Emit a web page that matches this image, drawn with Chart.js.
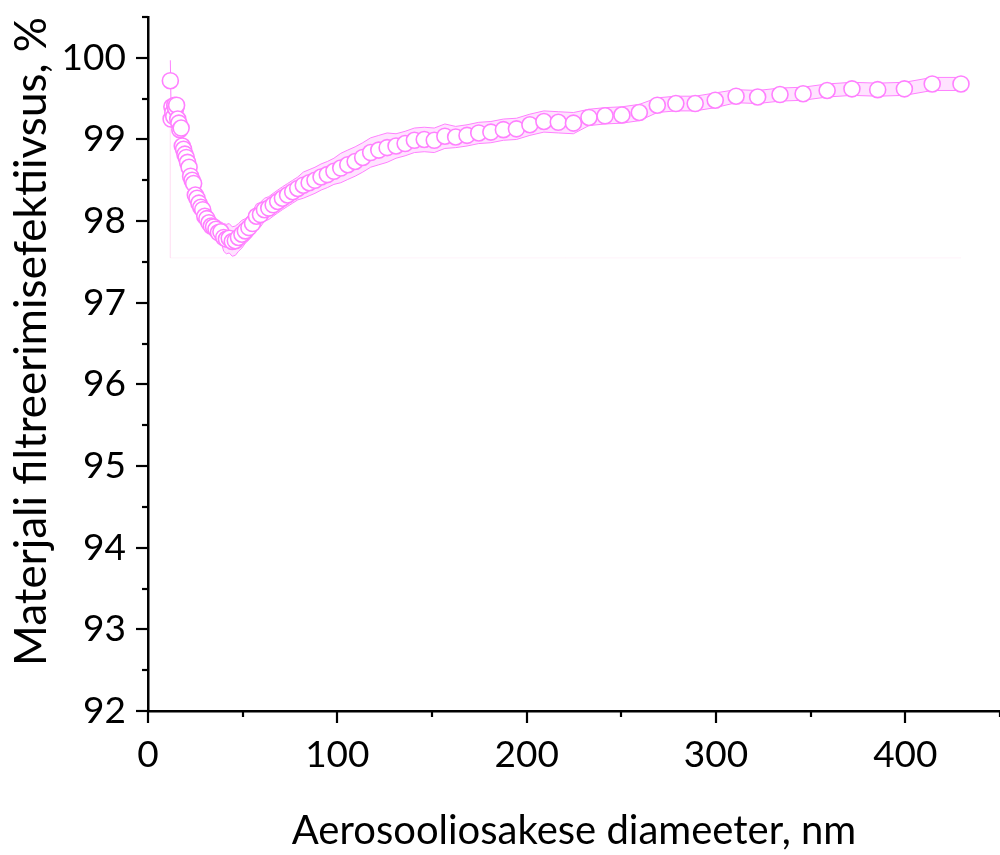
<!DOCTYPE html>
<html>
<head>
<meta charset="utf-8">
<script src="https://cdn.jsdelivr.net/npm/chart.js@4/dist/chart.umd.min.js"></script>
<style>
  html, body { margin: 0; padding: 0; background: #ffffff; }
  #wrap { width: 1000px; height: 855px; }
</style>
</head>
<body>
<div id="wrap"><canvas id="c" width="1000" height="855"></canvas></div>
<script>
// Particle diameter, nm
const diameters = [11.8, 12.2, 12.6, 13.1, 13.6, 14.1, 14.6, 15.1, 15.7, 16.3,
  16.8, 17.5, 18.1, 18.8, 19.5, 20.2, 20.9, 21.7, 22.5, 23.3,
  24.1, 25.0, 25.9, 26.9, 27.9, 28.9, 30.0, 31.1, 32.2, 33.4,
  34.6, 35.9, 37.2, 38.5, 40.0, 41.4, 42.9, 44.5, 46.1, 47.8,
  49.6, 51.4, 53.3, 55.2, 57.3, 59.4, 61.5, 63.8, 66.1, 68.5,
  71.0, 73.7, 76.4, 79.1, 82.0, 85.1, 88.2, 91.4, 94.7, 98.2,
  101.8, 105.5, 109.4, 113.4, 117.6, 121.9, 126.3, 131.0, 135.8, 140.7,
  145.9, 151.2, 156.8, 162.5, 168.5, 174.7, 181.1, 187.7, 194.6, 201.7,
  209.1, 216.7, 224.7, 232.9, 241.4, 250.3, 259.5, 269.0, 278.8, 289.0,
  299.6, 310.6, 322.0, 333.8, 346.0, 358.7, 371.8, 385.4, 399.5, 414.2,
  429.4];

// Filtration efficiency, %
const efficiency = [99.72, 99.25, 99.40, 99.33, 99.28, 99.42, 99.38, 99.42, 99.25, 99.20,
  99.12, 99.14, 98.92, 98.88, 98.82, 98.78, 98.72, 98.66, 98.55, 98.50,
  98.46, 98.32, 98.28, 98.22, 98.17, 98.14, 98.06, 98.03, 97.98, 97.94,
  97.93, 97.90, 97.86, 97.87, 97.80, 97.78, 97.79, 97.75, 97.76, 97.80,
  97.84, 97.88, 97.92, 97.97, 98.06, 98.08, 98.14, 98.16, 98.20, 98.24,
  98.28, 98.32, 98.36, 98.40, 98.44, 98.47, 98.50, 98.54, 98.57, 98.61,
  98.65, 98.69, 98.73, 98.78, 98.84, 98.87, 98.90, 98.92, 98.95, 98.99,
  99.00, 98.99, 99.04, 99.03, 99.05, 99.08, 99.09, 99.12, 99.13, 99.18,
  99.22, 99.21, 99.20, 99.27, 99.29, 99.30, 99.33, 99.42, 99.44, 99.44,
  99.48, 99.53, 99.52, 99.55, 99.56, 99.60, 99.62, 99.61, 99.62, 99.68,
  99.68];

// Error band half-width, %
const errors = [0.25, 0.10, 0.10, 0.10, 0.10, 0.10, 0.10, 0.10, 0.10, 0.10,
  0.10, 0.10, 0.08, 0.08, 0.08, 0.08, 0.08, 0.08, 0.08, 0.08,
  0.08, 0.08, 0.08, 0.08, 0.08, 0.08, 0.12, 0.12, 0.12, 0.12,
  0.12, 0.12, 0.12, 0.12, 0.17, 0.18, 0.18, 0.18, 0.18, 0.17,
  0.17, 0.15, 0.15, 0.15, 0.15, 0.15, 0.14, 0.14, 0.14, 0.14,
  0.14, 0.14, 0.14, 0.14, 0.16, 0.16, 0.16, 0.16, 0.16, 0.16,
  0.18, 0.18, 0.18, 0.18, 0.18, 0.18, 0.18, 0.15, 0.15, 0.15,
  0.15, 0.15, 0.15, 0.13, 0.13, 0.13, 0.13, 0.13, 0.13, 0.13,
  0.13, 0.13, 0.13, 0.10, 0.10, 0.10, 0.10, 0.09, 0.09, 0.09,
  0.09, 0.08, 0.08, 0.08, 0.08, 0.08, 0.08, 0.08, 0.08, 0.08,
  0.08];

// Faint baseline of the filled area
const baselineX = [11.8, 11.8, 429.4];
const baselineY = [99.2, 97.55, 97.55];

const xTickLabels = [0, 100, 200, 300, 400];
const yTickLabels = [92, 93, 94, 95, 96, 97, 98, 99, 100];

const PINK = '#ff80ff';
const FONT = 'Lato, "Open Sans", sans-serif';

const mainPts = diameters.map((d, i) => ({x: d, y: efficiency[i]}));
const upperPts = diameters.map((d, i) => ({x: d, y: efficiency[i] + errors[i]}));
const lowerPts = diameters.map((d, i) => ({x: d, y: efficiency[i] - errors[i]}));
const basePts = baselineX.map((x, i) => ({x: x, y: baselineY[i]}));

const tickPlugin = {
  id: 'axisTicks',
  afterDraw(chart) {
    const ctx = chart.ctx;
    const xs = chart.scales.x, ys = chart.scales.y;
    const area = chart.chartArea;
    ctx.save();
    ctx.strokeStyle = '#000';
    ctx.lineWidth = 2.2;
    xs.ticks.forEach(t => {
      const px = Math.round(xs.getPixelForValue(t.value));
      const len = xTickLabels.includes(t.value) ? 12 : 6;
      ctx.beginPath();
      ctx.moveTo(px, area.bottom);
      ctx.lineTo(px, area.bottom + len);
      ctx.stroke();
    });
    ys.ticks.forEach(t => {
      const py = Math.round(ys.getPixelForValue(t.value));
      const len = yTickLabels.includes(t.value) ? 12 : 6;
      ctx.beginPath();
      ctx.moveTo(area.left, py);
      ctx.lineTo(area.left - len, py);
      ctx.stroke();
    });
    ctx.restore();
  }
};

new Chart(document.getElementById('c'), {
  type: 'scatter',
  data: {
    datasets: [
      {
        label: 'efektiivsus',
        data: mainPts,
        showLine: false,
        pointRadius: 8,
        pointHoverRadius: 8,
        pointBackgroundColor: '#ffffff',
        pointBorderColor: PINK,
        pointBorderWidth: 1.6,
        order: 0
      },
      {
        label: 'upper',
        data: upperPts,
        showLine: true,
        pointRadius: 0,
        borderColor: PINK,
        borderWidth: 1,
        backgroundColor: 'rgba(255,128,255,0.22)',
        fill: '+1',
        tension: 0,
        order: 1
      },
      {
        label: 'lower',
        data: lowerPts,
        showLine: true,
        pointRadius: 0,
        borderColor: PINK,
        borderWidth: 1,
        fill: false,
        tension: 0,
        order: 2
      },
      {
        label: 'baseline',
        data: basePts,
        showLine: true,
        pointRadius: 0,
        borderColor: 'rgba(255,160,220,0.14)',
        borderWidth: 1,
        fill: false,
        order: 3
      }
    ]
  },
  options: {
    responsive: false,
    animation: false,
    events: [],
    layout: { autoPadding: false, padding: { top: 17, right: 0, left: 0, bottom: 0 } },
    plugins: {
      legend: { display: false },
      tooltip: { enabled: false }
    },
    scales: {
      x: {
        type: 'linear',
        min: 0,
        max: 450,
        grid: { display: false, drawTicks: false },
        border: { display: true, color: '#000', width: 2.5 },
        ticks: {
          stepSize: 50,
          includeBounds: false,
          maxRotation: 0,
          autoSkip: false,
          padding: 22,
          color: '#000',
          font: { family: FONT, size: 37 },
          callback: v => xTickLabels.includes(v) ? String(v) : ''
        },
        title: {
          display: true,
          text: 'Aerosooliosakese diameeter, nm',
          color: '#000',
          font: { family: FONT, size: 40 },
          padding: { top: 0, bottom: 0 }
        },
        afterFit: s => { s.height = 144; s.paddingLeft = 0; s.paddingRight = 0; }
      },
      y: {
        type: 'linear',
        min: 92,
        max: 100.5,
        grid: { display: false, drawTicks: false },
        border: { display: true, color: '#000', width: 2.5 },
        ticks: {
          stepSize: 0.5,
          autoSkip: false,
          padding: 22,
          color: '#000',
          font: { family: FONT, size: 37 },
          callback: v => yTickLabels.includes(v) ? String(v) : ''
        },
        title: {
          display: true,
          text: 'Materjali filtreerimisefektiivsus, %',
          align: 'end',
          color: '#000',
          font: { family: FONT, size: 44 },
          padding: { top: 5, bottom: 0 }
        },
        afterFit: s => { s.width = 148; s.paddingTop = 0; s.paddingBottom = 0; }
      }
    }
  },
  plugins: [tickPlugin]
});
</script>
</body>
</html>
